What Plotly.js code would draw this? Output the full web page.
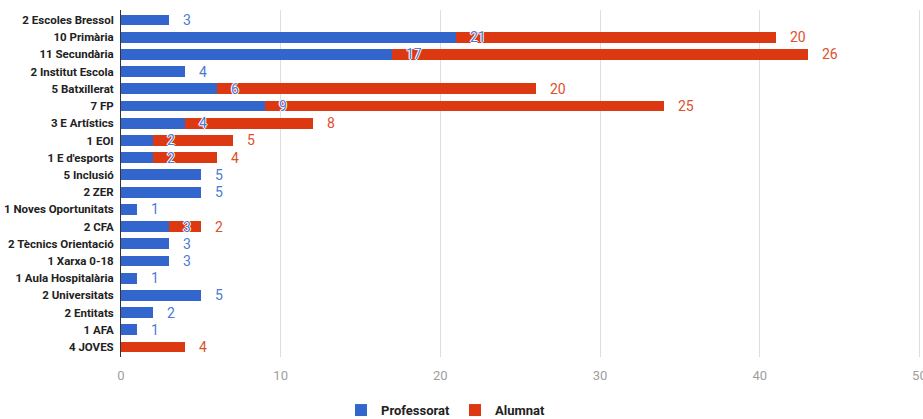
<!DOCTYPE html>
<html>
<head>
<meta charset="utf-8">
<script src="https://cdn.plot.ly/plotly-3.0.1.min.js"></script>
<style>html,body{margin:0;padding:0;background:#fff;}#chart{width:923px;height:419px;}</style>
</head>
<body>
<div id="chart"></div>
<script>
const categories = ["2 Escoles Bressol","10 Primària","11 Secundària","2 Institut Escola","5 Batxillerat","7 FP","3 E Artístics","1 EOI","1 E d'esports","5 Inclusió","2 ZER","1 Noves Oportunitats","2 CFA","2 Tècnics Orientació","1 Xarxa 0-18","1 Aula Hospitalària","2 Universitats","2 Entitats","1 AFA","4 JOVES"];
const professorat = [3,21,17,4,6,9,4,2,2,5,5,1,3,3,3,1,5,2,1,0];
const alumnat =     [0,20,26,0,20,25,8,5,4,0,0,0,2,0,0,0,0,0,0,4];
const xTicks = [0,10,20,30,40,50];

const BLUE = '#3366CC', RED = '#DC3912';
const BLUE_T = '#4d79d6', RED_T = '#de4f2c';

const traces = [
  {type:'bar', orientation:'h', name:'Professorat', y:categories, x:professorat,
   marker:{color:BLUE}, hoverinfo:'x+name'},
  {type:'bar', orientation:'h', name:'Alumnat', y:categories, x:alumnat,
   marker:{color:RED}, hoverinfo:'x+name'}
];

const annotations = [];
categories.forEach((c,i)=>{
  if (professorat[i] > 0) {
    annotations.push({x:professorat[i], y:c, text:String(professorat[i]), showarrow:false,
      xanchor:'left', xshift:12, font:{family:'Roboto, Arial, sans-serif', size:14, color:BLUE_T, shadow:'1px 0 0 #fff, -1px 0 0 #fff, 0 1px 0 #fff, 0 -1px 0 #fff'}});
  }
  if (alumnat[i] > 0) {
    const tot = professorat[i] + alumnat[i];
    annotations.push({x:tot, y:c, text:String(alumnat[i]), showarrow:false,
      xanchor:'left', xshift:12, font:{family:'Roboto, Arial, sans-serif', size:14, color:RED_T}});
  }
});

const layout = {
  width:923, height:419,
  margin:{l:121, r:2, t:10, b:62, autoexpand:false},
  barmode:'stack', bargap:0.37,
  paper_bgcolor:'#fff', plot_bgcolor:'#fff',
  font:{family:'Roboto, Arial, sans-serif', color:'#222'},
  xaxis:{range:[0,50.1], tickvals:xTicks, ticktext:xTicks.map(String), showgrid:true, gridcolor:'#dedede', gridwidth:1,
    zeroline:false, showline:false, ticks:'', ticklabelstandoff:9, ticklabeloverflow:'allow', tickfont:{size:13, color:'#9e9e9e'}, fixedrange:true, automargin:false},
  yaxis:{type:'category', autorange:'reversed', showgrid:false, zeroline:false, showline:true, linecolor:'#333', linewidth:1,
    ticks:'', ticklabelstandoff:4, tickfont:{size:11.5, color:'#222', weight:'bold'}, fixedrange:true, automargin:false},
  showlegend:true,
  legend:{orientation:'h', x:0.275, xanchor:'left', y:-0.153, yanchor:'middle', font:{size:13, color:'#222', weight:'bold'}, traceorder:'normal', itemwidth:30},
  annotations:annotations
};

Plotly.newPlot('chart', traces, layout, {displayModeBar:false, staticPlot:true});
</script>
</body>
</html>
